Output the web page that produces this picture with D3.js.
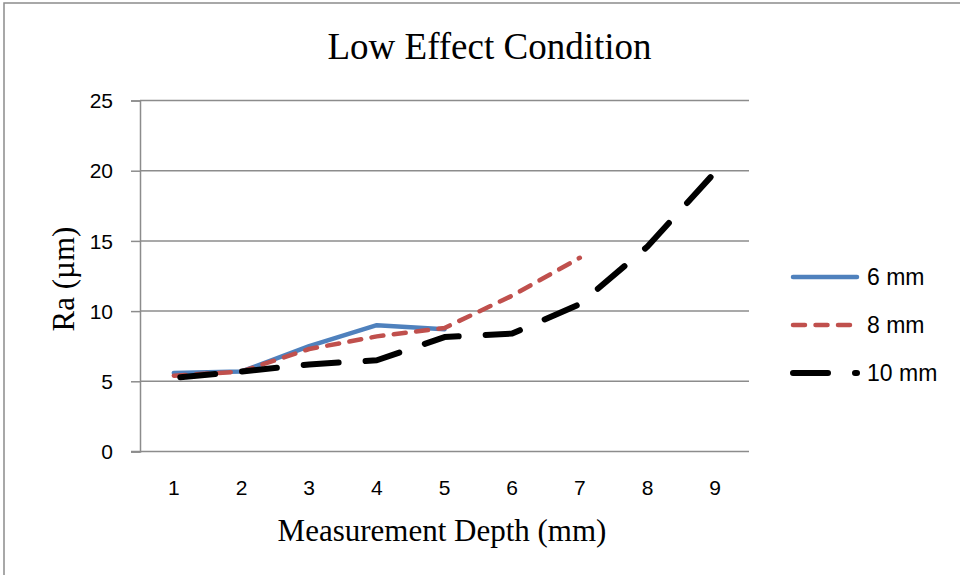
<!DOCTYPE html>
<html>
<head>
<meta charset="utf-8">
<script src="https://cdn.jsdelivr.net/npm/d3@7"></script>
<style>
  html, body { margin: 0; padding: 0; background: #fff; }
  svg { display: block; }
</style>
</head>
<body>
<svg id="chart" width="960" height="575"></svg>
<script>
const depths = [1, 2, 3, 4, 5, 6, 7, 8, 9];
const yTicks = [0, 5, 10, 15, 20, 25];
const seriesNames = ["6 mm", "8 mm", "10 mm"];
const ra6mm = [5.6, 5.7, 7.5, 9.0, 8.7];
const ra8mm = [5.4, 5.7, 7.3, 8.2, 8.8, 11.1, 13.8];
const ra10mm = [5.25, 5.7, 6.2, 6.5, 8.15, 8.4, 10.5, 14.6, 19.9];
const titleText = "Low Effect Condition";
const xTitle = "Measurement Depth (mm)";
const yTitle = "Ra (µm)";

const series = [
  { name: seriesNames[0], values: ra6mm, color: "#4F81BD", width: 4.5, dash: null, offset: 0 },
  { name: seriesNames[1], values: ra8mm, color: "#C0504D", width: 4.5, dash: "12,10.5", offset: 0 },
  { name: seriesNames[2], values: ra10mm, color: "#000000", width: 6, dash: "35,27", offset: 55.5 }
];

const svg = d3.select("#chart");
const pL = 140, pR = 749, pT = 100.5, pB = 451.5;

const x = d3.scaleBand().domain(depths).range([pL, pR]).padding(0);
const y = d3.scaleLinear().domain([0, 25]).range([pB, pT]);
const cx = d => x(d) + x.bandwidth() / 2;

// outer frame
svg.append("rect").attr("x", 4).attr("y", 3).attr("width", 980).attr("height", 600)
  .attr("fill", "none").attr("stroke", "#8c8c8c").attr("stroke-width", 1.5);

// gridlines
svg.append("g").selectAll("line").data(yTicks.filter(t => t > 0)).join("line")
  .attr("x1", pL).attr("x2", pR)
  .attr("y1", d => y(d)).attr("y2", d => y(d))
  .attr("stroke", "#8c8c8c").attr("stroke-width", 1.5);

// y axis
const yAxis = d3.axisLeft(y).tickValues(yTicks).tickSize(9).tickPadding(18);
const gy = svg.append("g").attr("transform", `translate(${pL},0)`).call(yAxis);
gy.select(".domain").attr("stroke", "#8c8c8c").attr("stroke-width", 1.5);
gy.selectAll(".tick line").attr("stroke", "#8c8c8c").attr("stroke-width", 1.5);
gy.selectAll(".tick text").attr("font-family", "'Liberation Sans', Arial, sans-serif")
  .attr("font-size", 21).attr("fill", "#000").attr("dy", "0.34em");

// x axis
const xAxis = d3.axisBottom(x).tickSize(0).tickPadding(43.5);
const gx = svg.append("g").attr("transform", `translate(0,${pB})`).call(xAxis);
gx.select(".domain").attr("stroke", "#8c8c8c").attr("stroke-width", 1.5)
  .attr("d", `M${pL - 9},0H${pR}`);
gx.selectAll(".tick text").attr("font-family", "'Liberation Sans', Arial, sans-serif")
  .attr("font-size", 21).attr("fill", "#000").attr("dy", "0");

// lines
const line = d3.line().x((d, i) => cx(depths[i])).y(d => y(d)).curve(d3.curveLinear);
series.forEach(s => {
  svg.append("path").datum(s.values)
    .attr("d", line)
    .attr("fill", "none")
    .attr("stroke", s.color)
    .attr("stroke-width", s.width)
    .attr("stroke-linecap", "round")
    .attr("stroke-linejoin", "round")
    .attr("stroke-dasharray", s.dash)
    .attr("stroke-dashoffset", s.offset);
});

// title
svg.append("text").attr("x", 489.5).attr("y", 59).attr("text-anchor", "middle")
  .attr("font-family", "'Liberation Serif', 'Times New Roman', serif").attr("font-size", 37)
  .text(titleText);

// axis titles
svg.append("text").attr("x", 442).attr("y", 541).attr("text-anchor", "middle")
  .attr("font-family", "'Liberation Serif', 'Times New Roman', serif").attr("font-size", 31)
  .text(xTitle);
svg.append("text").attr("transform", "translate(74,279) rotate(-90)").attr("text-anchor", "middle")
  .attr("font-family", "'Liberation Serif', 'Times New Roman', serif").attr("font-size", 31)
  .text(yTitle);

// legend
const legY = d3.scalePoint().domain(seriesNames).range([277, 373]);
const lg = svg.append("g");
series.forEach(s => {
  lg.append("line").attr("x1", 793).attr("x2", 857)
    .attr("y1", legY(s.name)).attr("y2", legY(s.name))
    .attr("stroke", s.color).attr("stroke-width", s.width)
    .attr("stroke-linecap", "round").attr("stroke-dasharray", s.dash);
  lg.append("text").attr("x", 867).attr("y", legY(s.name) + 8)
    .attr("font-family", "'Liberation Sans', Arial, sans-serif").attr("font-size", 23)
    .text(s.name);
});
</script>
</body>
</html>
